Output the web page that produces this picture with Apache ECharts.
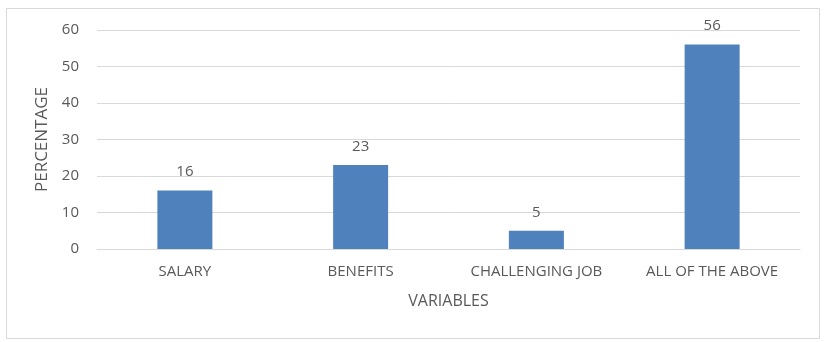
<!DOCTYPE html>
<html>
<head>
<meta charset="utf-8">
<script src="https://cdn.jsdelivr.net/npm/echarts@6/dist/echarts.min.js"></script>
<style>
  html, body { margin: 0; padding: 0; background: #fff; }
  #chart { width: 828px; height: 342px; }
</style>
</head>
<body>
<div id="chart"></div>
<script>
// chart data
var categories = ['SALARY', 'BENEFITS', 'CHALLENGING JOB', 'ALL OF THE ABOVE'];
var percentages = [16, 23, 5, 56];
var yTicks = [0, 10, 20, 30, 40, 50, 60];

var myChart = echarts.init(document.getElementById('chart'));
var textColor = '#595959';
var fontName = '"Open Sans", "Noto Sans", sans-serif';

myChart.setOption({
    animation: false,
    graphic: [{
        type: 'rect',
        shape: { x: 6.5, y: 8.5, width: 813, height: 330 },
        style: { fill: 'none', stroke: '#d9d9d9', lineWidth: 1 },
        silent: true
    }],
    grid: {
        left: 97,
        right: 28,
        top: 30,
        bottom: 93
    },
    xAxis: {
        type: 'category',
        data: categories,
        name: 'VARIABLES',
        nameLocation: 'middle',
        nameGap: 44,
        nameTextStyle: { color: textColor, fontSize: 16, fontFamily: fontName },
        axisLine: { lineStyle: { color: '#d9d9d9', width: 1 } },
        axisTick: { show: false },
        axisLabel: { color: textColor, fontSize: 15, margin: 15, fontFamily: fontName, interval: 0 }
    },
    yAxis: {
        type: 'value',
        min: yTicks[0],
        max: yTicks[yTicks.length - 1],
        interval: 10,
        name: 'PERCENTAGE',
        nameLocation: 'middle',
        nameGap: 45,
        nameRotate: 90,
        nameTextStyle: { color: textColor, fontSize: 17, fontFamily: fontName },
        axisLine: { show: false },
        axisTick: { show: false },
        axisLabel: { color: textColor, fontSize: 15, margin: 18, fontFamily: fontName },
        splitLine: { lineStyle: { color: '#d9d9d9', width: 1 } }
    },
    series: [{
        type: 'bar',
        data: percentages,
        barWidth: 55,
        itemStyle: { color: '#4f81bd' },
        label: {
            show: true,
            position: 'top',
            distance: 11,
            color: textColor,
            fontSize: 15,
            fontFamily: fontName
        }
    }]
});

window.onresize = function () {
    myChart.resize();
};
</script>
</body>
</html>
